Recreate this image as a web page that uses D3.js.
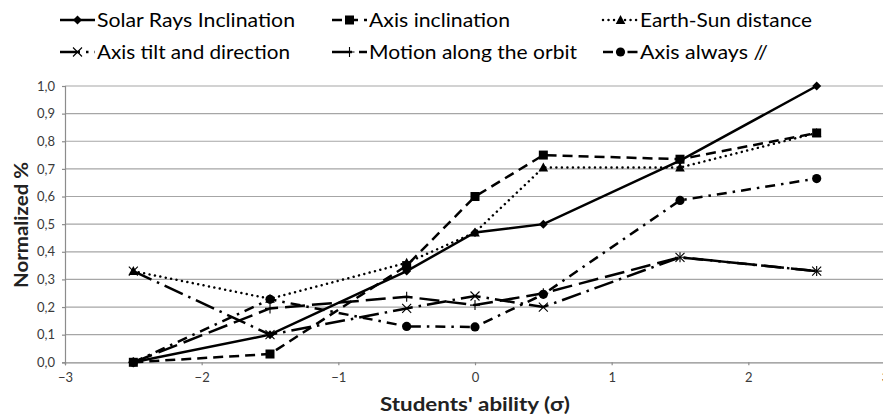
<!DOCTYPE html>
<html><head><meta charset="utf-8">
<script src="https://cdn.jsdelivr.net/npm/d3@7"></script>
<style>html,body{margin:0;padding:0;background:#fff;overflow:hidden}</style>
</head><body>
<svg id="chart" width="883" height="416"></svg>
<script>
// ---- data ----
const xValues = [-2.5, -1.5, -0.5, 0, 0.5, 1.5, 2.5];
const seriesNames = ["Solar Rays Inclination", "Axis inclination", "Earth-Sun distance",
  "Axis tilt and direction", "Motion along the orbit", "Axis always //"];
const solarRays   = [0, 0.10, 0.33, 0.47, 0.50, 0.73, 1.00];
const axisIncl    = [0, 0.03, 0.35, 0.60, 0.75, 0.735, 0.83];
const earthSun    = [0.33, 0.23, 0.36, 0.47, 0.705, 0.705, 0.83];
const axisTilt    = [0.33, 0.10, 0.195, 0.24, 0.20, 0.38, 0.33];
const motionOrbit = [0, 0.195, 0.237, 0.207, 0.25, 0.38, 0.33];
const axisAlways  = [0, 0.228, 0.13, 0.128, 0.246, 0.586, 0.665];
const xTicks = [-3, -2, -1, 0, 1, 2, 3];
const yTicks = [0, 0.1, 0.2, 0.3, 0.4, 0.5, 0.6, 0.7, 0.8, 0.9, 1.0];
const xTitle = "Students' ability (σ)";
const yTitle = "Normalized %";

// ---- styles per series ----
const seriesValues = [solarRays, axisIncl, earthSun, axisTilt, motionOrbit, axisAlways];
const dashes = [null, "10,6", "0.01,5.5", "20,6,2.5,6", "20,7", "10,6,2.5,6"];
const caps = ["butt", "butt", "round", "butt", "butt", "butt"];
const markers = ["diamond", "square", "triangle", "x", "plus", "circle"];
const legendTextWidths = [198, 141, 172, 193, 208, 128];

const svg = d3.select("#chart");
const x = d3.scaleLinear().domain([-3, 3]).range([65, 885]);
const y = d3.scaleLinear().domain([0, 1]).range([362.3, 86]);
const font = "Lato, 'Open Sans', sans-serif";

// gridlines
svg.append("g").selectAll("line").data(yTicks.slice(1)).join("line")
  .attr("x1", x(-3)).attr("x2", 883)
  .attr("y1", d => y(d)).attr("y2", d => y(d))
  .attr("stroke", "#a6a6a6").attr("stroke-width", 1.2);

// y axis
const yAxis = d3.axisLeft(y).tickValues(yTicks).tickSize(3).tickPadding(7)
  .tickFormat(d => d3.format(".1f")(d).replace(".", ","));
const gy = svg.append("g").attr("transform", `translate(${x(-3)},0)`).call(yAxis);
gy.select(".domain").attr("stroke", "#8c8c8c").attr("stroke-width", 1.2);
gy.selectAll(".tick line").attr("stroke", "#8c8c8c").attr("stroke-width", 1.2);
gy.selectAll("text").attr("font-family", font).attr("font-size", 13).attr("fill", "#3a3a3a");

// x axis
const xAxis = d3.axisBottom(x).tickValues(xTicks).tickSize(3).tickPadding(7)
  .tickFormat(d3.format("d"));
const gx = svg.append("g").attr("transform", `translate(0,${y(0)})`).call(xAxis);
gx.select(".domain").attr("stroke", "#8c8c8c").attr("stroke-width", 1.2);
gx.selectAll(".tick line").attr("stroke", "#8c8c8c").attr("stroke-width", 1.2);
gx.selectAll("text").attr("font-family", font).attr("font-size", 13).attr("fill", "#3a3a3a");

// marker drawing
function drawMarker(g, type, cx, cy) {
  const k = g.append("g").attr("transform", `translate(${cx},${cy})`);
  if (type === "diamond") k.append("path").attr("d", "M0,-4.5L4.5,0L0,4.5L-4.5,0Z").attr("fill", "#000");
  else if (type === "square") k.append("rect").attr("x", -4.5).attr("y", -4.5).attr("width", 9).attr("height", 9).attr("fill", "#000");
  else if (type === "triangle") k.append("path").attr("d", "M0,-5L4.8,4L-4.8,4Z").attr("fill", "#000");
  else if (type === "circle") k.append("circle").attr("r", 4.6).attr("fill", "#000");
  else if (type === "x") k.append("path").attr("d", "M-4.5,-4.5L4.5,4.5M-4.5,4.5L4.5,-4.5").attr("stroke", "#000").attr("stroke-width", 1.1).attr("fill", "none");
  else if (type === "plus") k.append("path").attr("d", "M-5,0L5,0M0,-5L0,5").attr("stroke", "#000").attr("stroke-width", 1.1).attr("fill", "none");
}

// series
const line = d3.line().x(d => x(d[0])).y(d => y(d[1]));
seriesValues.forEach((vals, i) => {
  const pts = xValues.map((xv, j) => [xv, vals[j]]);
  const g = svg.append("g");
  g.append("path").datum(pts).attr("d", line)
    .attr("fill", "none").attr("stroke", "#000").attr("stroke-width", 2.5)
    .attr("stroke-dasharray", dashes[i]).attr("stroke-linecap", caps[i]);
  pts.forEach(p => drawMarker(g, markers[i], x(p[0]), y(p[1])));
});

// legend
const legCols = [60, 332, 603];
const legRows = [20, 52];
seriesNames.forEach((name, i) => {
  const x0 = legCols[i % 3], cy = legRows[Math.floor(i / 3)];
  const g = svg.append("g");
  g.append("line").attr("x1", x0).attr("x2", x0 + 35).attr("y1", cy).attr("y2", cy)
    .attr("stroke", "#000").attr("stroke-width", 2.5)
    .attr("stroke-dasharray", dashes[i]).attr("stroke-linecap", caps[i]);
  drawMarker(g, markers[i], x0 + 17.5, cy);
  g.append("text").attr("x", x0 + 37).attr("y", cy + 6.5)
    .attr("font-family", font).attr("font-size", 19).attr("fill", "#000")
    .attr("textLength", legendTextWidths[i]).attr("lengthAdjust", "spacingAndGlyphs")
    .text(name);
});

// axis titles
svg.append("text").attr("x", x(0)).attr("y", 411).attr("text-anchor", "middle")
  .attr("font-family", font).attr("font-weight", "bold").attr("font-size", 19)
  .attr("textLength", 190).attr("lengthAdjust", "spacingAndGlyphs")
  .attr("fill", "#222").text(xTitle);
svg.append("text").attr("transform", "translate(28,225) rotate(-90)").attr("text-anchor", "middle")
  .attr("font-family", font).attr("font-weight", "bold").attr("font-size", 19)
  .attr("textLength", 126).attr("lengthAdjust", "spacingAndGlyphs")
  .attr("fill", "#222").text(yTitle);
</script>
</body></html>
